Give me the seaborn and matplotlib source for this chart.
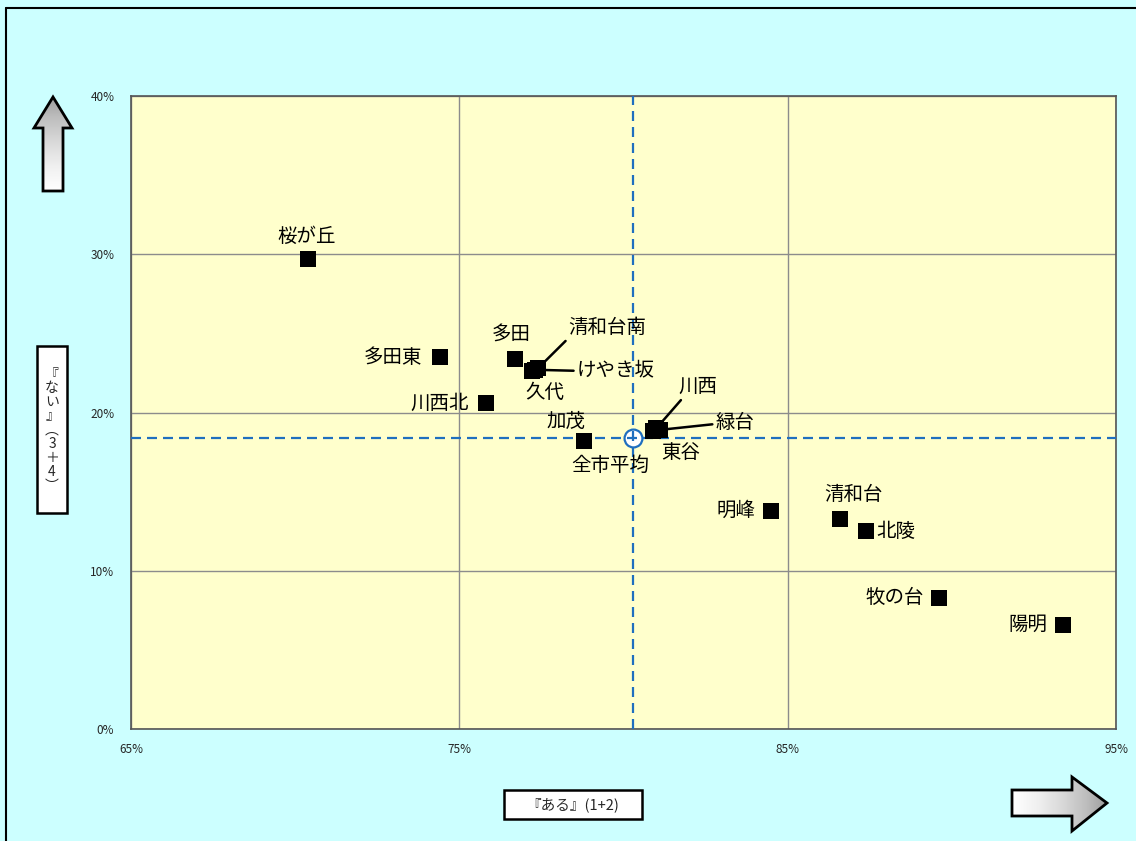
import numpy as np
import pandas as pd
import matplotlib
matplotlib.use("Agg")
import matplotlib.pyplot as plt
from matplotlib.patches import Polygon, Rectangle
import seaborn as sns

# --- data -------------------------------------------------------------
districts = ["桜が丘", "多田東", "多田", "清和台南", "けやき坂", "久代", "川西北",
             "加茂", "川西", "緑台", "東谷", "明峰", "清和台", "北陵", "牧の台", "陽明"]
aru_pct = [70.4, 74.4, 76.7, 77.4, 77.3, 77.2, 75.8,
           78.8, 81.0, 81.1, 80.9, 84.5, 86.6, 87.4, 89.6, 93.4]
nai_pct = [29.7, 23.5, 23.4, 22.8, 22.7, 22.6, 20.6,
           18.2, 19.0, 18.9, 18.8, 13.8, 13.3, 12.5, 8.3, 6.6]
avg_name = "全市平均"
avg_aru = 80.3
avg_nai = 18.4
x_ticks = [65, 75, 85, 95]
y_ticks = [0, 10, 20, 30, 40]
x_title = "『ある』(1+2)"
y_title = "『\nな\nい\n』\n︵\n3\n＋\n4\n︶"

# label placement: (dx px, dy px, horizontal alignment, leader line relpos or None)
label_pos = {
    "桜が丘": (-2, 23, "center", None),
    "多田東": (-17, 0, "right", None),
    "多田": (-4, 24, "center", None),
    "清和台南": (69, 41, "center", (0.05, 0.15)),
    "けやき坂": (42, 0, "left", (0.0, 0.45)),
    "久代": (13, -21, "center", None),
    "川西北": (-17, 0, "right", None),
    "加茂": (-18, 20, "center", None),
    "川西": (42, 42, "center", (0.15, 0.05)),
    "緑台": (56, 7, "left", (0.0, 0.45)),
    "東谷": (28, -21, "center", None),
    "明峰": (-16, 0, "right", None),
    "清和台": (13, 24, "center", None),
    "北陵": (10, 0, "left", None),
    "牧の台": (-15, 0, "right", None),
    "陽明": (-16, 0, "right", None),
}

df = pd.DataFrame({"district": districts, "aru": aru_pct, "nai": nai_pct})

# --- style ------------------------------------------------------------
sns.set_theme(style="whitegrid")
JP = ["Noto Sans CJK JP", "DejaVu Sans"]
plt.rcParams["font.family"] = JP

W, H = 1136, 841
fig = plt.figure(figsize=(W / 100, H / 100), dpi=100)
fig.patch.set_facecolor("#CCFFFF")

ax = fig.add_axes([131 / W, 1 - 729 / H, (1116 - 131) / W, (729 - 96) / H])
ax.set_facecolor("#FFFFCC")

sns.scatterplot(data=df, x="aru", y="nai", marker="s", s=125, color="black",
                edgecolor="black", linewidth=0, ax=ax, zorder=5, legend=False)

# city average marker with reference lines crossing it
ax.scatter([avg_aru], [avg_nai], s=165, facecolor="white", edgecolor="#1F6FBF",
           linewidth=1.6, zorder=2.5)
dash = dict(color="#1F6FBF", lw=1.6, linestyle=(0, (4.5, 2.7)), zorder=3)
ax.axvline(avg_aru, **dash)
ax.axhline(avg_nai, **dash)

ax.set_xlim(x_ticks[0], x_ticks[-1])
ax.set_ylim(y_ticks[0], y_ticks[-1])
ax.set_xticks(x_ticks)
ax.set_yticks(y_ticks)
ax.set_xticklabels([f"{v}%" for v in x_ticks], fontsize=8.5)
ax.set_yticklabels([f"{v}%" for v in y_ticks], fontsize=8.5)
ax.tick_params(axis="x", pad=10, length=0)
ax.tick_params(axis="y", pad=12, length=0)
ax.grid(True, color="#8C8C8C", lw=1.0)
ax.set_xlabel("")
ax.set_ylabel("")
for side, sp in ax.spines.items():
    sp.set_visible(True)
    sp.set_color("#555555")
    sp.set_linewidth(1.2)

# district labels
def place(name, x, y):
    dx, dy, ha, rel = label_pos[name]
    kw = {}
    if rel is not None:
        kw["arrowprops"] = dict(arrowstyle="-", color="black", lw=1.8,
                                shrinkA=0, shrinkB=0, relpos=rel)
    ax.annotate(name, (x, y), xytext=(dx, dy), textcoords="offset pixels",
                ha=ha, va="center", fontsize=14, color="black", zorder=6, **kw)

for name, x, y in zip(districts, aru_pct, nai_pct):
    place(name, x, y)
ax.annotate(avg_name, (avg_aru, avg_nai), xytext=(-23, -28), textcoords="offset pixels",
            ha="center", va="center", fontsize=14, color="black", zorder=6)

# --- decorations in figure pixel space -------------------------------
ov = fig.add_axes([0, 0, 1, 1], zorder=10)
ov.set_xlim(0, W)
ov.set_ylim(H, 0)
ov.axis("off")
ov.patch.set_visible(False)

# outer frame (top and left edges visible)
ov.plot([6, W + 5], [8, 8], color="black", lw=1.5)
ov.plot([6, 6], [8, H + 5], color="black", lw=1.5)

def gradient_arrow(pts, vertical):
    poly = Polygon(pts, closed=True, facecolor="none", edgecolor="black", lw=2.0, zorder=3)
    ov.add_patch(poly)
    xs = [p[0] for p in pts]
    ys = [p[1] for p in pts]
    g = np.linspace(0, 1, 256)
    if vertical:
        img = g[:, None]           # dark at top, light at bottom
    else:
        img = g[None, ::-1]        # light at left, dark at right
    im = ov.imshow(img, cmap="Greys_r", vmin=-1.1, vmax=1.0, aspect="auto",
                   extent=(min(xs), max(xs), max(ys), min(ys)), zorder=2,
                   interpolation="bilinear")
    im.set_clip_path(poly)

up_arrow = [(43, 191), (63, 191), (63, 128), (72, 128), (53, 97), (34, 128), (43, 128)]
right_arrow = [(1012, 790), (1072, 790), (1072, 777), (1107, 803), (1072, 831),
               (1072, 816), (1012, 816)]
gradient_arrow(up_arrow, vertical=True)
gradient_arrow(right_arrow, vertical=False)
ov.set_xlim(0, W)
ov.set_ylim(H, 0)

# axis title boxes
ov.add_patch(Rectangle((504, 790), 138, 29, facecolor="white", edgecolor="black", lw=1.8))
ov.text(573, 805, x_title, ha="center", va="center", fontsize=10.5)
ov.add_patch(Rectangle((37, 346), 30, 167, facecolor="white", edgecolor="black", lw=1.8))
ov.text(52, 430, y_title, ha="center", va="center", fontsize=10, linespacing=1.0)

fig.savefig("out.png", dpi=100, facecolor=fig.get_facecolor())
